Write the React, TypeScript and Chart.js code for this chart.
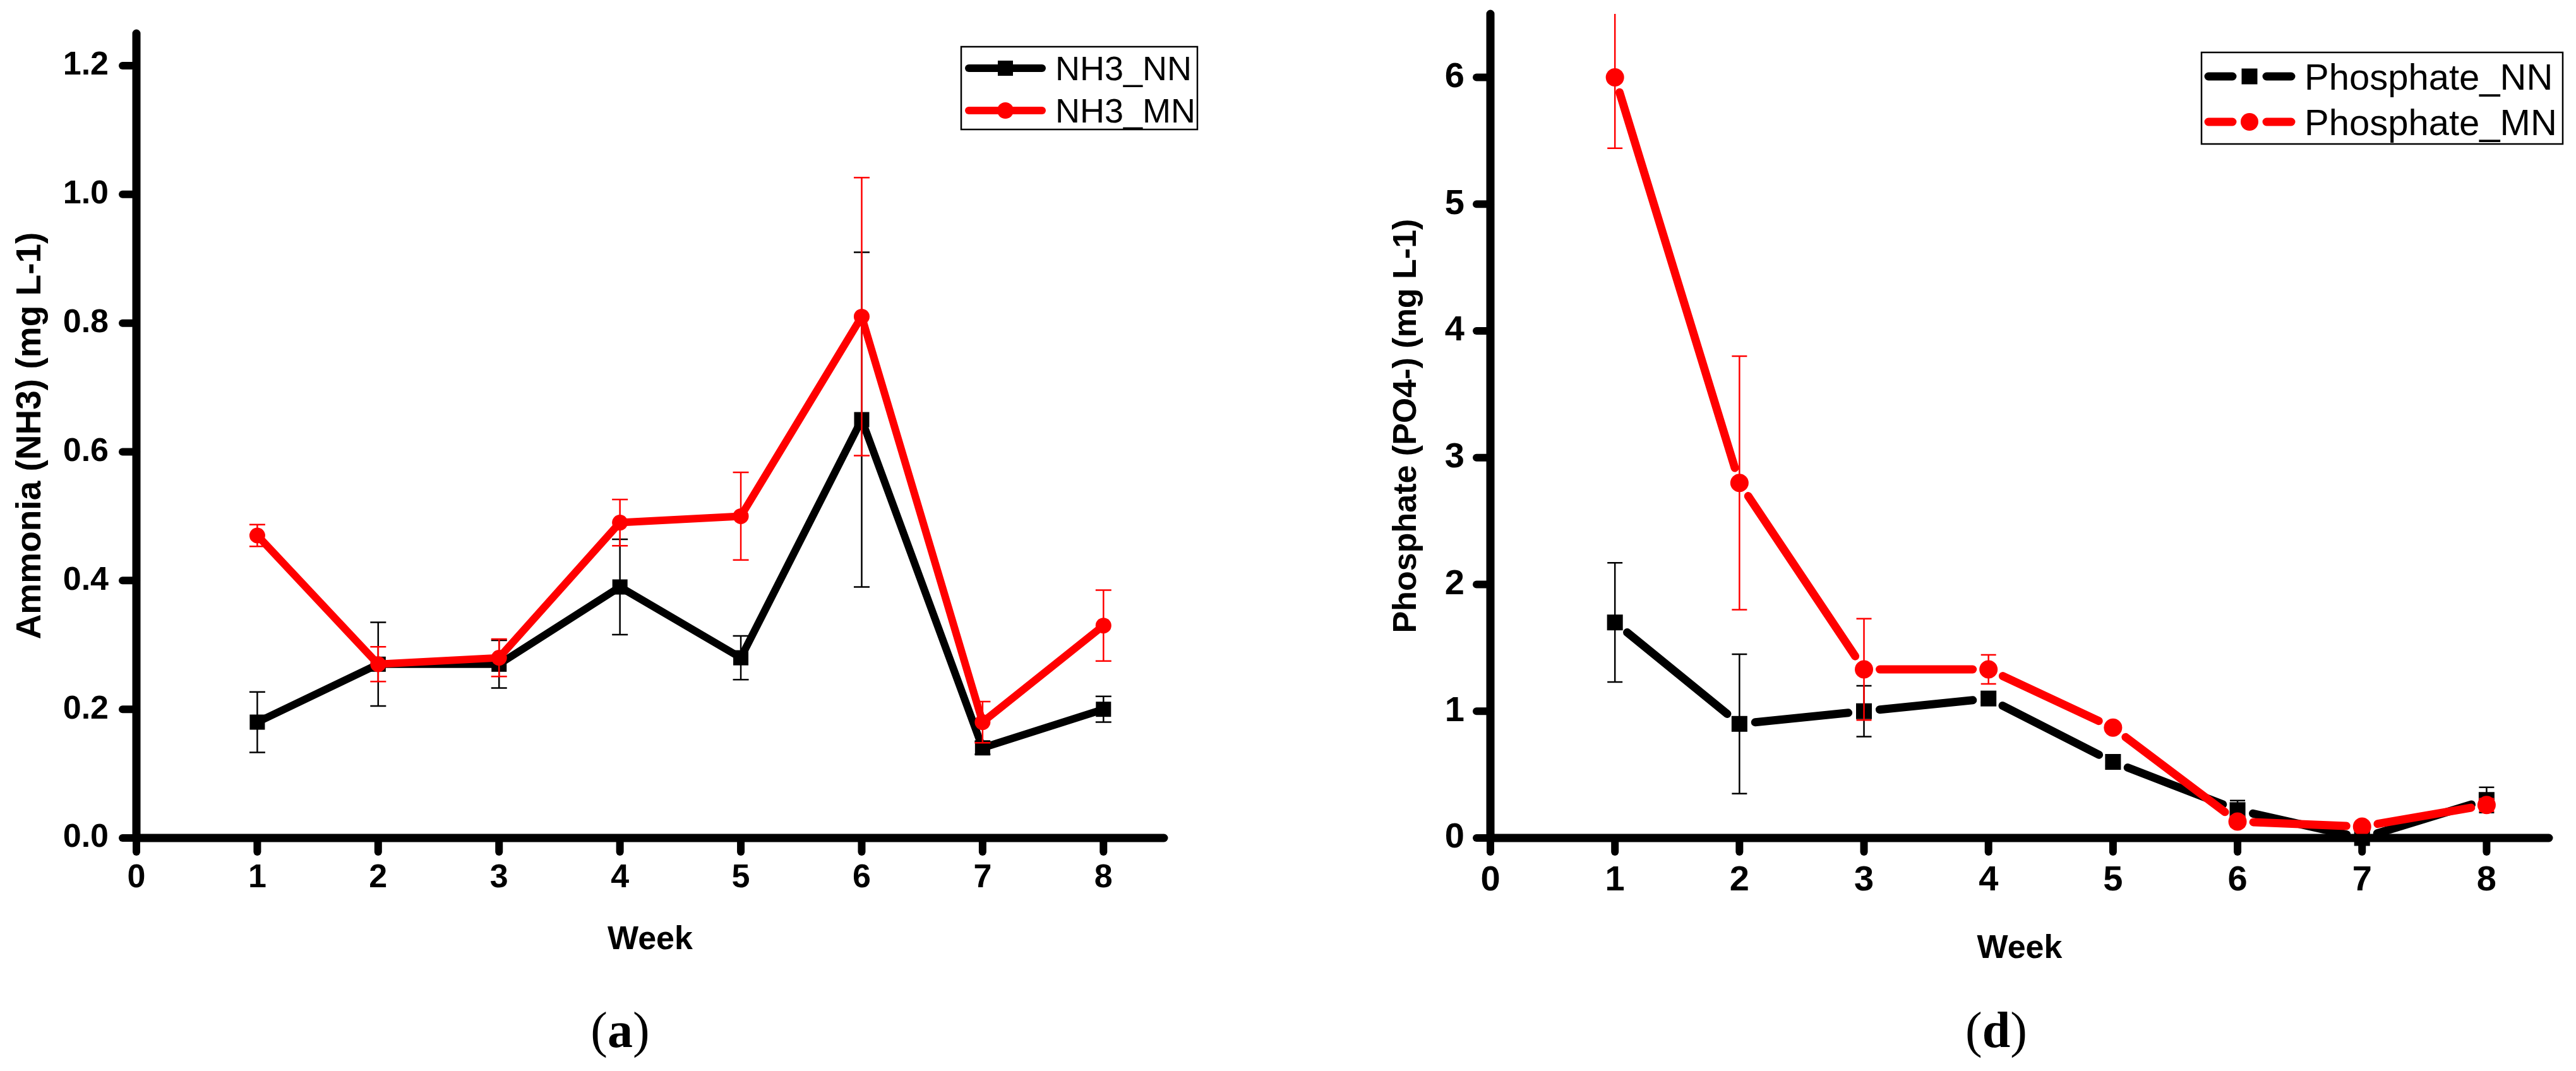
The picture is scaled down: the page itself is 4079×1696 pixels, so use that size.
import React, { useEffect, useRef } from 'react';
import { Chart, registerables } from 'chart.js';

Chart.register(...registerables);

// ---- data -------------------------------------------------------------
const weeks = [1, 2, 3, 4, 5, 6, 7, 8];

const ammoniaNN = [0.18, 0.27, 0.27, 0.39, 0.28, 0.65, 0.14, 0.2];
const ammoniaNNErr = [0.047, 0.065, 0.037, 0.074, 0.034, 0.26, 0.01, 0.02];
const ammoniaMN = [0.47, 0.27, 0.28, 0.49, 0.5, 0.81, 0.18, 0.33];
const ammoniaMNErr = [0.017, 0.027, 0.029, 0.036, 0.068, 0.216, 0.032, 0.055];

const phosphateNN = [1.7, 0.9, 1.0, 1.1, 0.6, 0.22, 0.0, 0.3];
const phosphateNNErr = [0.47, 0.55, 0.2, 0.03, 0.03, 0.075, 0.05, 0.1];
const phosphateMN = [6.0, 2.8, 1.33, 1.33, 0.87, 0.13, 0.09, 0.26];
const phosphateMNErr = [0.56, 1.0, 0.4, 0.115, 0.03, 0.04, 0.02, 0.05];

const ammoniaLabels = ['NH3_NN', 'NH3_MN'];
const phosphateLabels = ['Phosphate_NN', 'Phosphate_MN'];

const SANS = '"Liberation Sans", Arial, Helvetica, sans-serif';
const SERIF = '"Liberation Serif", "Times New Roman", serif';
const BLACK = '#000000';
const RED = '#ff0000';

// ---- plugins ----------------------------------------------------------
// vertical error bars with caps, drawn right after each dataset
const errorBarPlugin = {
  id: 'errorBars',
  afterDatasetDraw(chart: any, args: any) {
    const ds: any = chart.data.datasets[args.index];
    const errs: number[] | undefined = ds.errors;
    if (!errs) return;
    const { ctx, chartArea: a } = chart;
    const xs = chart.scales.x;
    const ys = chart.scales.y;
    const cap = ds.errorCap || 12.5;
    ctx.save();
    ctx.beginPath();
    ctx.rect(a.left - 40, a.top, a.right - a.left + 80, a.bottom - a.top);
    ctx.clip();
    ctx.strokeStyle = ds.borderColor;
    ctx.lineWidth = 2.5;
    ctx.lineCap = 'butt';
    ds.data.forEach((pt: any, i: number) => {
      const e = errs[i];
      const px = xs.getPixelForValue(pt.x);
      const top = ys.getPixelForValue(pt.y + e);
      const bot = ys.getPixelForValue(pt.y - e);
      ctx.beginPath();
      ctx.moveTo(px, top);
      ctx.lineTo(px, bot);
      ctx.moveTo(px - cap, top);
      ctx.lineTo(px + cap, top);
      ctx.moveTo(px - cap, bot);
      ctx.lineTo(px + cap, bot);
      ctx.stroke();
    });
    ctx.restore();
  },
};

// heavy axis lines with rounded outward ticks
const axesPlugin = {
  id: 'panelAxes',
  afterDatasetsDraw(chart: any) {
    const { ctx, chartArea: a } = chart;
    const xs = chart.scales.x;
    const ys = chart.scales.y;
    ctx.save();
    ctx.strokeStyle = BLACK;
    ctx.lineCap = 'round';
    ctx.lineJoin = 'round';
    ctx.lineWidth = 12;
    const tick = 22;
    ys.ticks.forEach((t: any) => {
      const py = ys.getPixelForValue(t.value);
      ctx.beginPath();
      ctx.moveTo(a.left, py);
      ctx.lineTo(a.left - tick, py);
      ctx.stroke();
    });
    xs.ticks.forEach((t: any) => {
      const px = xs.getPixelForValue(t.value);
      ctx.beginPath();
      ctx.moveTo(px, a.bottom);
      ctx.lineTo(px, a.bottom + tick);
      ctx.stroke();
    });
    ctx.lineWidth = 13;
    ctx.beginPath();
    ctx.moveTo(a.left, a.top);
    ctx.lineTo(a.left, a.bottom);
    ctx.lineTo(a.right, a.bottom);
    ctx.stroke();
    ctx.restore();
  },
};

// boxed legend: line sample, marker, label
const legendPlugin = {
  id: 'panelLegend',
  afterDraw(chart: any, _args: any, opts: any) {
    if (!opts || !opts.rows) return;
    const ctx = chart.ctx;
    const [x0, y0, x1, y1] = opts.box;
    ctx.save();
    ctx.strokeStyle = BLACK;
    ctx.lineWidth = 2.5;
    ctx.strokeRect(x0, y0, x1 - x0, y1 - y0);
    opts.rows.forEach((r: any) => {
      const [l0, l1] = opts.line;
      const mx = opts.markerX;
      ctx.strokeStyle = r.color;
      ctx.fillStyle = r.color;
      ctx.lineWidth = opts.lineWidth;
      ctx.lineCap = 'round';
      ctx.beginPath();
      if (opts.gap) {
        ctx.moveTo(l0, r.y);
        ctx.lineTo(mx - opts.gap, r.y);
        ctx.moveTo(mx + opts.gap, r.y);
        ctx.lineTo(l1, r.y);
      } else {
        ctx.moveTo(l0, r.y);
        ctx.lineTo(l1, r.y);
      }
      ctx.stroke();
      if (r.marker === 'rect') {
        const s = opts.rectSide;
        ctx.fillRect(mx - s / 2, r.y - s / 2, s, s);
      } else {
        ctx.beginPath();
        ctx.arc(mx, r.y, opts.circleR, 0, Math.PI * 2);
        ctx.fill();
      }
      ctx.fillStyle = BLACK;
      ctx.font = `${opts.fontSize}px ${SANS}`;
      ctx.textAlign = 'left';
      ctx.textBaseline = 'alphabetic';
      ctx.fillText(r.label, opts.textX, r.y + opts.fontSize * 0.358);
    });
    ctx.restore();
  },
};

// panel caption such as "(a)" with a bold letter
const captionPlugin = {
  id: 'panelCaption',
  afterDraw(chart: any, _args: any, opts: any) {
    if (!opts || !opts.letter) return;
    const ctx = chart.ctx;
    const s = opts.size;
    ctx.save();
    ctx.fillStyle = BLACK;
    ctx.textBaseline = 'alphabetic';
    ctx.textAlign = 'left';
    const reg = `${s}px ${SERIF}`;
    const bold = `bold ${s}px ${SERIF}`;
    ctx.font = reg;
    const wo = ctx.measureText('(').width;
    const wc = ctx.measureText(')').width;
    ctx.font = bold;
    const wl = ctx.measureText(opts.letter).width;
    let x = opts.x - (wo + wl + wc) / 2;
    ctx.font = reg;
    ctx.fillText('(', x, opts.y);
    x += wo;
    ctx.font = bold;
    ctx.fillText(opts.letter, x, opts.y);
    x += wl;
    ctx.font = reg;
    ctx.fillText(')', x, opts.y);
    ctx.restore();
  },
};

// line segments stop short of the symbols
const gapSegment = (gap: number, color: string, width: number) => ({
  borderDash: (c: any) => {
    const len = Math.hypot(c.p1.x - c.p0.x, c.p1.y - c.p0.y);
    return [Math.max(len - 2 * gap, 0.01), 2 * gap];
  },
  borderDashOffset: () => -gap,
  borderCapStyle: 'round',
  borderColor: color,
  borderWidth: width,
});

// ---- config -----------------------------------------------------------
function buildConfig(p: any) {
  const xBand = p.xBand;
  return {
    type: 'line',
    data: {
      datasets: p.series.map((s: any) => ({
        label: s.label,
        data: weeks.map((w, i) => ({ x: w, y: s.values[i] })),
        errors: s.errors,
        errorCap: p.errorCap,
        borderColor: s.color,
        backgroundColor: s.color,
        borderWidth: p.lineWidth,
        borderCapStyle: 'round',
        borderJoinStyle: 'round',
        pointStyle: s.marker,
        pointRadius: s.marker === 'rect' ? p.rectR : p.circleR,
        pointHoverRadius: s.marker === 'rect' ? p.rectR : p.circleR,
        pointBackgroundColor: s.color,
        pointBorderColor: s.color,
        pointBorderWidth: 0,
        tension: 0,
        order: s.order,
        clip: false,
        segment: p.gap ? gapSegment(p.gap, s.color, p.lineWidth) : undefined,
      })),
    },
    options: {
      animation: false,
      responsive: false,
      devicePixelRatio: 1,
      events: [],
      layout: {
        padding: {
          left: 0,
          top: p.area.top,
          right: p.width - p.area.right,
          bottom: p.height - p.area.bottom - xBand,
        },
      },
      plugins: {
        legend: { display: false },
        tooltip: { enabled: false },
        panelLegend: p.legend,
        panelCaption: p.caption,
      },
      scales: {
        x: {
          type: 'linear',
          min: 0,
          max: 8.5,
          grid: { display: false, drawTicks: false },
          border: { display: false },
          ticks: {
            stepSize: 1,
            includeBounds: false,
            autoSkip: false,
            maxRotation: 0,
            padding: p.xTickPad,
            color: BLACK,
            font: { family: SANS, weight: 'bold', size: p.tickSize },
            callback: (v: number) => String(Math.round(v)),
          },
          title: {
            display: true,
            text: 'Week',
            color: BLACK,
            font: { family: SANS, weight: 'bold', size: 52 },
            padding: { top: 0, bottom: 0 },
          },
          afterFit: (s: any) => {
            s.height = xBand;
            s.paddingLeft = 0;
            s.paddingRight = 0;
          },
        },
        y: {
          type: 'linear',
          min: 0,
          max: p.yMax,
          grid: { display: false, drawTicks: false },
          border: { display: false },
          ticks: {
            stepSize: p.yStep,
            includeBounds: false,
            autoSkip: false,
            padding: p.yTickPad,
            color: BLACK,
            font: { family: SANS, weight: 'bold', size: p.tickSize },
            callback: (v: number) => v.toFixed(p.yDecimals),
          },
          title: {
            display: true,
            text: p.yTitle,
            color: BLACK,
            font: { family: SANS, weight: 'bold', size: p.titleSize },
            padding: { top: p.yTitlePad, bottom: 0 },
          },
          afterFit: (s: any) => {
            s.width = p.area.left;
            s.paddingTop = 0;
            s.paddingBottom = 0;
          },
        },
      },
    },
    plugins: [errorBarPlugin, axesPlugin, legendPlugin, captionPlugin],
  };
}

const H = 1696;

const ammoniaPanel = () => ({
  width: 2040,
  height: H,
  area: { left: 216, right: 1843, top: 53, bottom: 1327 },
  xBand: 193,
  yMax: 1.25,
  yStep: 0.2,
  yDecimals: 1,
  yTitle: 'Ammonia (NH3) (mg L-1)',
  yTitlePad: 16,
  yTickPad: 44,
  xTickPad: 32,
  tickSize: 52,
  titleSize: 55,
  lineWidth: 12,
  rectR: 17,
  circleR: 12.5,
  errorCap: 12.5,
  gap: 0,
  series: [
    { label: ammoniaLabels[0], values: ammoniaNN, errors: ammoniaNNErr, color: BLACK, marker: 'rect', order: 2 },
    { label: ammoniaLabels[1], values: ammoniaMN, errors: ammoniaMNErr, color: RED, marker: 'circle', order: 1 },
  ],
  legend: {
    box: [1522, 74, 1896, 205],
    line: [1534, 1650],
    markerX: 1592,
    textX: 1671,
    fontSize: 54,
    lineWidth: 12,
    rectSide: 24,
    circleR: 13,
    gap: 0,
    rows: [
      { label: ammoniaLabels[0], color: BLACK, marker: 'rect', y: 108 },
      { label: ammoniaLabels[1], color: RED, marker: 'circle', y: 175 },
    ],
  },
  caption: { letter: 'a', x: 982, y: 1658, size: 80 },
});

const phosphatePanel = () => ({
  width: 2039,
  height: H,
  area: { left: 320, right: 1996, top: 22, bottom: 1327 },
  xBand: 207,
  yMax: 6.5,
  yStep: 1,
  yDecimals: 0,
  yTitle: 'Phosphate (PO4-) (mg L-1)',
  yTitlePad: 156,
  yTickPad: 41,
  xTickPad: 34,
  tickSize: 56,
  titleSize: 52,
  lineWidth: 13,
  rectR: 17.7,
  circleR: 14.5,
  errorCap: 12,
  gap: 25,
  series: [
    { label: phosphateLabels[0], values: phosphateNN, errors: phosphateNNErr, color: BLACK, marker: 'rect', order: 2 },
    { label: phosphateLabels[1], values: phosphateMN, errors: phosphateMNErr, color: RED, marker: 'circle', order: 1 },
  ],
  legend: {
    box: [1446, 83, 2018, 228],
    line: [1457, 1588],
    markerX: 1522,
    textX: 1609,
    fontSize: 58,
    lineWidth: 13,
    rectSide: 25,
    circleR: 14,
    gap: 27,
    rows: [
      { label: phosphateLabels[0], color: BLACK, marker: 'rect', y: 121 },
      { label: phosphateLabels[1], color: RED, marker: 'circle', y: 193 },
    ],
  },
  caption: { letter: 'd', x: 1121, y: 1658, size: 80 },
});

function Panel({ make, left }: { make: () => any; left: number }) {
  const ref = useRef<HTMLCanvasElement>(null);
  const spec = make();
  useEffect(() => {
    const chart = new Chart(ref.current as HTMLCanvasElement, buildConfig(make()) as any);
    return () => chart.destroy();
  }, []);
  return (
    <canvas
      ref={ref}
      width={spec.width}
      height={spec.height}
      style={{ position: 'absolute', left, top: 0, width: spec.width, height: spec.height }}
    />
  );
}

export default function App() {
  useEffect(() => {
    document.body.style.margin = '0';
  }, []);
  return (
    <div style={{ position: 'fixed', left: 0, top: 0, width: 4079, height: H, background: '#ffffff', overflow: 'hidden' }}>
      <Panel make={ammoniaPanel} left={0} />
      <Panel make={phosphatePanel} left={2040} />
    </div>
  );
}
